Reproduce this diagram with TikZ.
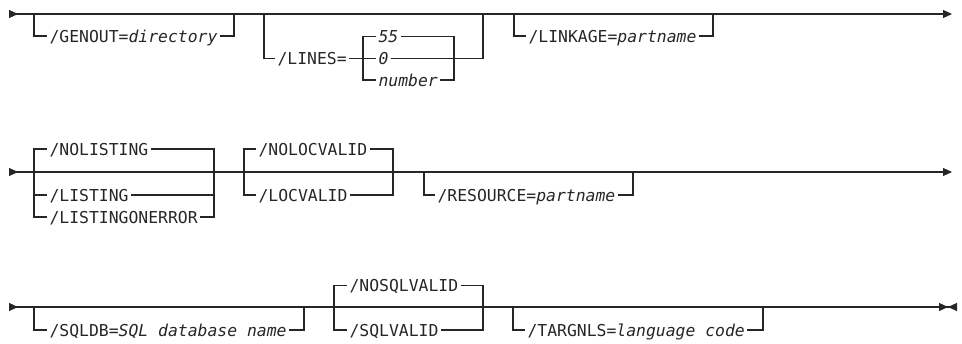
\documentclass[tikz,border=0pt]{standalone}
\usepackage{fontspec}
\setmonofont{DejaVu Sans Mono}
\usetikzlibrary{arrows.meta}
\tikzset{
  rail/.style={line width=1.1pt, draw=black!85},
  opt/.style={anchor=west, inner xsep=2pt, inner ysep=0pt, text height=12pt, text depth=0pt,
    font=\ttfamily\fontsize{16.4}{18}\selectfont, text=black!85},
  railgo/.style={{Triangle[reversed,length=9pt,width=8pt]}-{Triangle[length=9pt,width=8pt]}},
  railend/.style={{Triangle[reversed,length=9pt,width=8pt]}-{Triangle[length=9pt,width=8pt]Triangle[reversed,length=9pt,width=8pt]}},
}
\begin{document}
\begin{tikzpicture}[x=1pt, y=-1pt, rail]
  \useasboundingbox (0,0) rectangle (962,343);
  % main lines
  \coordinate (r1s) at (9,14);  \coordinate (r1e) at (952,14);
  \coordinate (r2s) at (9,172); \coordinate (r2e) at (952,172);
  \coordinate (r3s) at (9,307); \coordinate (r3e) at (957,307);
  \draw[railgo] (r1s) -- (r1e);
  \draw[railgo] (r2s) -- (r2e);
  \draw[railend] (r3s) -- (r3e);
  % row 1
  \node[opt] (genout) at (47,36) {/GENOUT=\textit{directory}};
  \coordinate (genA) at (34,14);  \coordinate (genB) at (234,14);
  \node[opt] (lines) at (275,58.5) {/LINES=};
  \node[opt] (n55) at (376,36.5) {\textit{55}};
  \node[opt] (n0) at (376,58.5) {\textit{0}};
  \node[opt] (nnum) at (376,80) {\textit{number}};
  \coordinate (linA) at (264,14); \coordinate (linB) at (483,14);
  \coordinate (numA) at (363,58.5); \coordinate (numB) at (454,58.5);
  \draw (linA) |- (lines.west);
  \draw (lines.east) -- (n0.west);
  \draw (n0.east) -| (linB);
  \draw (n55.west) -| (numA) |- (nnum.west);
  \draw (n55.east) -| (numB) |- (nnum.east);
  \node[opt] (linkage) at (526,36) {/LINKAGE=\textit{partname}};
  \coordinate (lnkA) at (514,14); \coordinate (lnkB) at (713,14);
  % row 2
  \node[opt] (nolisting) at (47,149) {/NOLISTING};
  \node[opt] (listing) at (47,195) {/LISTING};
  \node[opt] (listerr) at (47,217) {/LISTINGONERROR};
  \coordinate (lstA) at (34,172); \coordinate (lstB) at (214,172);
  \draw (lstA) |- (listing.west);
  \draw (listing.east) -| (lstB);
  \draw (nolisting.west) -| (lstA) |- (listerr.west);
  \draw (nolisting.east) -| (lstB) |- (listerr.east);
  \node[opt] (nolocv) at (256,149) {/NOLOCVALID};
  \node[opt] (locv) at (256,195) {/LOCVALID};
  \coordinate (locA) at (244,172); \coordinate (locB) at (393,172);
  \node[opt] (resource) at (435,195) {/RESOURCE=\textit{partname}};
  \coordinate (resA) at (424,172); \coordinate (resB) at (633,172);
  % row 3
  \node[opt] (sqldb) at (47,330) {/SQLDB=\textit{SQL database name}};
  \coordinate (sqlA) at (34,307); \coordinate (sqlB) at (304,307);
  \node[opt] (nosqlv) at (347,285.5) {/NOSQLVALID};
  \node[opt] (sqlv) at (347,330) {/SQLVALID};
  \coordinate (sqvA) at (334,307); \coordinate (sqvB) at (483,307);
  \node[opt] (targnls) at (525,330) {/TARGNLS=\textit{language code}};
  \coordinate (tgA) at (513,307); \coordinate (tgB) at (763,307);
  % optional items below the line
  \foreach \n/\a/\b in {genout/genA/genB, linkage/lnkA/lnkB, resource/resA/resB,
                        sqldb/sqlA/sqlB, targnls/tgA/tgB}
  {\draw (\a) |- (\n.west); \draw (\n.east) -| (\b);}
  % choices with default above the line
  \foreach \t/\u/\a/\b in {nolocv/locv/locA/locB, nosqlv/sqlv/sqvA/sqvB}
  {\draw (\t.west) -| (\a) |- (\u.west); \draw (\t.east) -| (\b) |- (\u.east);}
\end{tikzpicture}
\end{document}
